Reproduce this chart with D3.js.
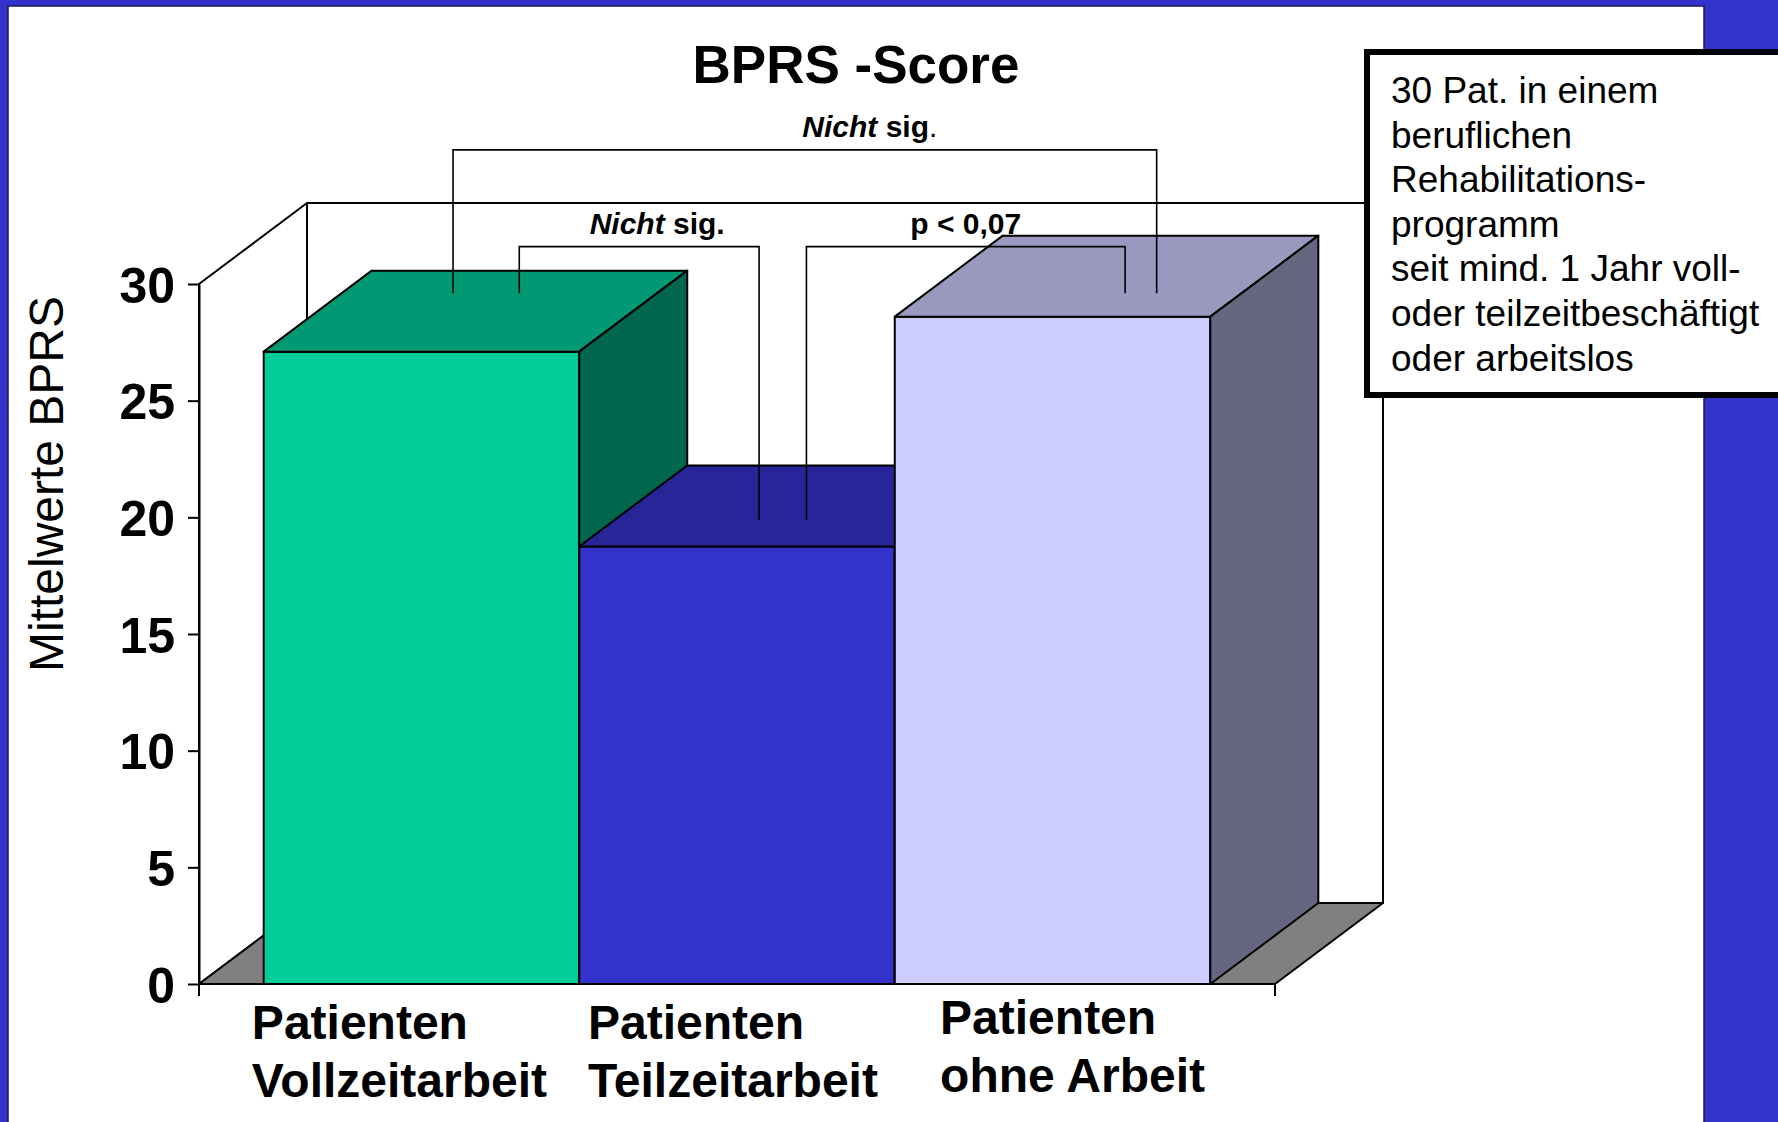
<!DOCTYPE html>
<html>
<head>
<meta charset="utf-8">
<script src="https://cdn.jsdelivr.net/npm/d3@7"></script>
<style>
body { margin: 0; background: #3333cc; }
svg { display: block; font-family: "Liberation Sans", Arial, Helvetica, sans-serif; }
</style>
</head>
<body>
<script>
// chart data
const categories = ['Patienten Vollzeitarbeit', 'Patienten Teilzeitarbeit', 'Patienten ohne Arbeit'];
const values = [27.1, 18.75, 28.6];
const yTicks = [0, 5, 10, 15, 20, 25, 30];
const chartTitle = 'BPRS -Score';
const yTitle = 'Mittelwerte BPRS';
// significance brackets: level and end heights in score units
const brackets = [
  { from: 'Patienten Vollzeitarbeit', to: 'Patienten ohne Arbeit', label: 'Nicht sig.', level: 35.75, ends: [29.6, 29.6] },
  { from: 'Patienten Vollzeitarbeit', to: 'Patienten Teilzeitarbeit', label: 'Nicht sig.', level: 31.6, ends: [29.6, 19.9] },
  { from: 'Patienten Teilzeitarbeit', to: 'Patienten ohne Arbeit', label: 'p < 0,07', level: 31.6, ends: [19.9, 29.6] }
];
const noteLines = ['30 Pat. in einem', 'beruflichen', 'Rehabilitations-', 'programm',
  'seit mind. 1 Jahr voll-', 'oder teilzeitbeschäftigt', 'oder arbeitslos'];

const W = 1778, H = 1122;
const x0 = 199, x1 = 1275, yBase = 984, yTop = 284;
const dx = 108, dy = -81; // 3d depth

const svg = d3.select('body').append('svg').attr('width', W).attr('height', H);
svg.append('rect').attr('width', W).attr('height', H).attr('fill', '#3333cc');
svg.append('rect').attr('x', 8).attr('y', 6).attr('width', 1696).attr('height', H)
  .attr('fill', '#fff').attr('stroke', '#1c1c5a').attr('stroke-width', 1.5);

const x = d3.scaleBand().domain(categories).range([x0, x1]).paddingInner(0).paddingOuter(0.205);
const y = d3.scaleLinear().domain([0, 30]).range([yBase, yTop]);
const color = d3.scaleOrdinal().domain(categories).range(['#00cc99', '#3333cc', '#ccccff']);
const shade = (c, k) => { const r = d3.rgb(c); return d3.rgb(r.r * k, r.g * k, r.b * k).formatHex(); };
const poly = pts => 'M' + pts.map(p => p.join(',')).join('L') + 'Z';

// walls and floor
const walls = svg.append('g').attr('stroke', '#000').attr('stroke-width', 2).attr('stroke-linejoin', 'round');
walls.append('path').attr('fill', '#fff')
  .attr('d', poly([[x0 + dx, yTop + dy], [x1 + dx, yTop + dy], [x1 + dx, yBase + dy], [x0 + dx, yBase + dy]]));
walls.append('path').attr('fill', '#fff')
  .attr('d', poly([[x0, yBase], [x0, yTop], [x0 + dx, yTop + dy], [x0 + dx, yBase + dy]]));
walls.append('path').attr('fill', '#808080')
  .attr('d', poly([[x0, yBase], [x1, yBase], [x1 + dx, yBase + dy], [x0 + dx, yBase + dy]]));

// y axis
const yAxis = svg.append('g').attr('transform', `translate(${x0},0)`)
  .call(d3.axisLeft(y).tickValues(yTicks).tickSize(11).tickSizeOuter(0).tickPadding(13));
yAxis.select('.domain').attr('stroke', '#000').attr('stroke-width', 2);
yAxis.selectAll('.tick line').attr('stroke', '#000').attr('stroke-width', 2);
yAxis.selectAll('.tick text').attr('fill', '#000').style('font-size', '50px').style('font-weight', 'bold')
  .style('font-family', '"Liberation Sans", Arial, sans-serif').attr('dy', '0.36em');

// category axis end ticks
svg.append('g').attr('stroke', '#000').attr('stroke-width', 2)
  .selectAll('line').data(x.range()).enter().append('line')
  .attr('x1', d => d).attr('x2', d => d).attr('y1', yBase).attr('y2', yBase + 12);

// bars
const bw = x.bandwidth();
const bars = svg.append('g').attr('stroke', '#000').attr('stroke-width', 2).attr('stroke-linejoin', 'round')
  .selectAll('g').data(categories).enter().append('g');
bars.append('path').attr('fill', d => color(d))
  .attr('d', (d, i) => { const l = x(d), r = l + bw, t = y(values[i]); return poly([[l, t], [r, t], [r, yBase], [l, yBase]]); });
bars.append('path').attr('fill', d => shade(color(d), 0.75))
  .attr('d', (d, i) => { const l = x(d), r = l + bw, t = y(values[i]); return poly([[l, t], [r, t], [r + dx, t + dy], [l + dx, t + dy]]); });
bars.append('path').attr('fill', d => shade(color(d), 0.5))
  .attr('d', (d, i) => { const r = x(d) + bw, t = y(values[i]); return poly([[r, t], [r + dx, t + dy], [r + dx, yBase + dy], [r, yBase]]); });

// brackets
const anchors = [[0.60, 0.83], [0.81, 0.57], [0.72, 0.73]];
const labelShift = [65, 18, 0];
const br = svg.append('g');
brackets.forEach((b, i) => {
  const xl = x(b.from) + bw * anchors[i][0], xr = x(b.to) + bw * anchors[i][1];
  br.append('path').attr('fill', 'none').attr('stroke', '#000').attr('stroke-width', 1.6)
    .attr('d', `M${xl},${y(b.ends[0])}V${y(b.level)}H${xr}V${y(b.ends[1])}`);
  const t = br.append('text').attr('x', (xl + xr) / 2 + labelShift[i]).attr('y', y(b.level) - 13)
    .attr('text-anchor', 'middle').style('font-size', '30px').style('font-weight', 'bold');
  if (b.label.startsWith('Nicht')) {
    t.append('tspan').style('font-style', 'italic').text('Nicht');
    t.append('tspan').text(' sig');
    t.append('tspan').style('font-weight', i === 0 ? 'normal' : 'bold').text('.');
  } else {
    t.text(b.label);
  }
});

// category labels, lines left aligned, block roughly centred under the bar
const labNudgeX = [-22, -4, 20], labNudgeY = [0, 0, -5];
const lab = svg.append('g').style('font-size', '48px').style('font-weight', 'bold');
categories.forEach((c, j) => {
  const i = c.indexOf(' ');
  const lines = [c.slice(0, i), c.slice(i + 1)];
  const t = lab.append('text').attr('x', 0).attr('y', 1039 + labNudgeY[j]);
  lines.forEach((s, k) => t.append('tspan').attr('x', 0).attr('dy', k ? 58 : 0).text(s));
  const w = t.node().getBBox().width;
  const left = x(c) + bw / 2 - w / 2 + labNudgeX[j];
  t.attr('x', left).selectAll('tspan').attr('x', left);
});

// titles
svg.append('text').attr('x', 856).attr('y', 83).attr('text-anchor', 'middle')
  .style('font-size', '53px').style('font-weight', 'bold').text(chartTitle);
svg.append('text').attr('transform', 'translate(63,484) rotate(-90)').attr('text-anchor', 'middle')
  .style('font-size', '48px').text(yTitle);

// note box
svg.append('rect').attr('x', 1367).attr('y', 52).attr('width', 520).attr('height', 343)
  .attr('fill', '#fff').attr('stroke', '#000').attr('stroke-width', 6);
svg.append('g').style('font-size', '37px')
  .selectAll('text').data(noteLines).enter().append('text')
  .attr('x', 1391).attr('y', (d, i) => 103 + i * 44.6).text(d => d);
</script>
</body>
</html>
